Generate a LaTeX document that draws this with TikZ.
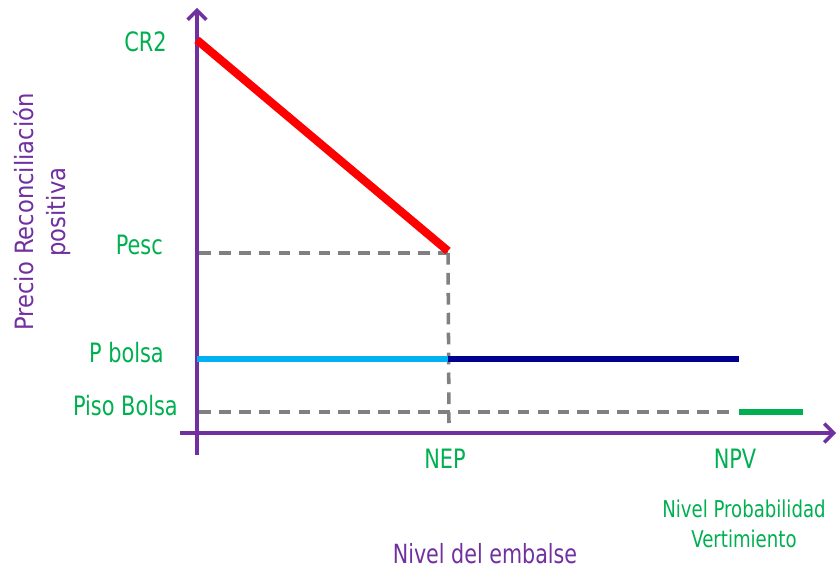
\documentclass[tikz,border=0pt]{standalone}
\usepackage{fontspec}
\setmainfont{DejaVu Sans Condensed}
\usetikzlibrary{arrows.meta}
\definecolor{axispurple}{RGB}{112,48,160}
\definecolor{labelgreen}{RGB}{0,176,80}
\definecolor{lightblue}{RGB}{0,176,240}
\definecolor{navyblue}{RGB}{0,0,144}
\definecolor{guidegray}{RGB}{128,128,128}
\newcommand{\tallx}[1]{\scalebox{1}[1.15]{#1}}
\tikzstyle{axis} = [draw=axispurple, line width=3pt, -{Straight Barb[length=8pt,width=16pt,line width=3pt]}]
\tikzstyle{guide} = [draw=guidegray, line width=3pt, dash pattern=on 10pt off 7pt]
\tikzstyle{level} = [text=labelgreen, font=\fontsize{19.8}{24}\selectfont, inner sep=0pt, anchor=base]
\tikzstyle{title} = [text=axispurple, font=\fontsize{19.6}{24}\selectfont, inner sep=0pt, align=center]

\begin{document}
\begin{tikzpicture}[x=0.03cm, y=-0.03cm]
			\useasboundingbox (0,0) rectangle (839,568);
			
			% axes
			\coordinate (ybot) at (197,455);
			\coordinate (ytop) at (197,8);
			\coordinate (xleft) at (180,433);
			\coordinate (xright) at (836,433);
			\draw[axis] (ybot) -- (ytop);
			\draw[axis] (xleft) -- (xright);
			
			% price points
			\coordinate (cr2) at (197,40);
			\coordinate (pesc) at (448,251);
			\coordinate (pescaxis) at (199,253);
			\coordinate (pescbase) at (449,423);
			\coordinate (pbolsa) at (197,359);
			\coordinate (pbolsanep) at (448,359);
			\coordinate (pbolsanpv) at (739,359);
			\coordinate (piso) at (199,412);
			\coordinate (pisoend) at (731,412);
			\coordinate (pisogreen) at (739,412);
			\coordinate (pisogreenend) at (803,412);
			
			\draw[guide] (pescaxis) -- (pesc |- pescaxis);
			\draw[guide] (pesc |- pescaxis) -- (pescbase);
			\draw[guide] (piso) -- (pisoend);
			\draw[red, line width=7pt] (cr2) -- (pesc);
			\draw[lightblue, line width=5.5pt] (pbolsa) -- (pbolsanep);
			\draw[navyblue, line width=5.5pt] (pbolsanep) -- (pbolsanpv);
			\draw[labelgreen, line width=5.5pt] (pisogreen) -- (pisogreenend);
			
			% labels
			\node (lcr2) [level, anchor=base east] at (167,52) {\tallx{CR2}};
			\node (lpesc) [level, anchor=base east] at (163,255) {\tallx{Pesc}};
			\node (lpbolsa) [level, anchor=base east] at (164,362) {\tallx{P bolsa}};
			\node (lpiso) [level, anchor=base east] at (178,415) {\tallx{Piso Bolsa}};
			\node (lnep) [level] at (445,468) {\tallx{NEP}};
			\node (lnpv) [level] at (735,468) {\tallx{NPV}};
			\node (lnivel) [level, anchor=north, align=center, font=\fontsize{17.2}{25.5}\selectfont] at (744,500) {\tallx{Nivel Probabilidad}\\\tallx{Vertimiento}};
			\node (lembalse) [title, anchor=base] at (485,563) {\tallx{Nivel del embalse}};
			\node (lprecio) [title, rotate=90, font=\fontsize{21.5}{27}\selectfont] at (42,212) {Precio Reconciliación\\positiva};
			
			\end{tikzpicture}
\end{document}
